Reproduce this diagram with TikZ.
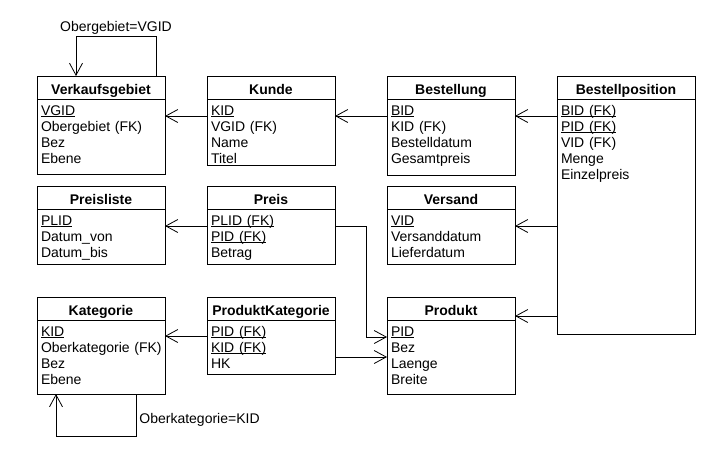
\documentclass[tikz,border=0pt]{standalone}
\usepackage{fontspec}
\setmainfont{Liberation Sans}
\usetikzlibrary{arrows.meta,positioning}
\def\pk#1{\leavevmode\setbox0\hbox{#1}\rlap{\rule[-1.8pt]{\wd0}{0.7pt}}\box0}
\tikzset{
  kopf/.style={draw, fill=white, anchor=north west, minimum width=128pt, minimum height=23pt,
    inner sep=0pt, outer sep=0pt, text height=13pt, text depth=0pt, font=\fontsize{14}{16}\selectfont\bfseries},
  inhalt/.style={draw, anchor=north, text width=120pt, inner xsep=4pt, inner ysep=0pt, outer sep=0pt,
    text height=16pt, align=left, font=\fontsize{14}{16}\selectfont},
  fk/.style={-{Straight Barb[length=12pt,width=13pt]}},
  beschr/.style={font=\fontsize{14}{16}\selectfont}
}
\begin{document}
\begin{tikzpicture}[x=1pt, y=-1pt, line width=0.8pt]
		\useasboundingbox (0,0) rectangle (711,448);
		
		% obere Reihe
		\node[kopf] (vgebietKopf) at (37,76) {Verkaufsgebiet};
		\node[inhalt, text depth=59pt, below=0pt of vgebietKopf] (vgebiet) {\pk{VGID}\\Obergebiet (FK)\\Bez\\Ebene};
		\node[kopf] (kundeKopf) at (207,76) {Kunde};
		\node[inhalt, text depth=50pt, below=0pt of kundeKopf] (kunde) {\pk{KID}\\VGID (FK)\\Name\\Titel};
		\node[kopf] (bestellungKopf) at (387,76) {Bestellung};
		\node[inhalt, text depth=60pt, below=0pt of bestellungKopf] (bestellung) {\pk{BID}\\KID (FK)\\Bestelldatum\\Gesamtpreis};
		\node[kopf, minimum width=138pt] (bestellposKopf) at (557,76) {Bestellposition};
		\node[inhalt, text width=130pt, text depth=219pt, below=0pt of bestellposKopf] (bestellpos) {\pk{BID (FK)}\\\pk{PID (FK)}\\VID (FK)\\Menge\\Einzelpreis};
		
		% mittlere Reihe
		\node[kopf] (preislisteKopf) at (37,186) {Preisliste};
		\node[inhalt, text depth=39pt, below=0pt of preislisteKopf] (preisliste) {\pk{PLID}\\Datum\_von\\Datum\_bis};
		\node[kopf] (preisKopf) at (207,186) {Preis};
		\node[inhalt, text depth=39pt, below=0pt of preisKopf] (preis) {\pk{PLID (FK)}\\\pk{PID (FK)}\\Betrag};
		\node[kopf] (versandKopf) at (387,186) {Versand};
		\node[inhalt, text depth=39pt, below=0pt of versandKopf] (versand) {\pk{VID}\\Versanddatum\\Lieferdatum};
		
		% untere Reihe
		\node[kopf] (kategorieKopf) at (37,297) {Kategorie};
		\node[inhalt, text depth=58pt, below=0pt of kategorieKopf] (kategorie) {\pk{KID}\\\mbox{Oberkategorie (FK)}\\Bez\\Ebene};
		\node[kopf] (prodkatKopf) at (207,297) {ProduktKategorie};
		\node[inhalt, text depth=38pt, below=0pt of prodkatKopf] (prodkat) {\pk{PID (FK)}\\\pk{KID (FK)}\\HK};
		\node[kopf] (produktKopf) at (387,297) {Produkt};
		\node[inhalt, text depth=58pt, below=0pt of produktKopf] (produkt) {\pk{PID}\\Bez\\Laenge\\Breite};
		
		% Beziehungen
		\draw[fk] ([yshift=-17pt]kunde.north west) -- ([yshift=-17pt]vgebiet.north east);
		\draw[fk] ([yshift=-17pt]bestellung.north west) -- ([yshift=-17pt]kunde.north east);
		\draw[fk] ([yshift=-17pt]bestellpos.north west) -- ([yshift=-17pt]bestellung.north east);
		\draw[fk] ([yshift=-127pt]bestellpos.north west) -- ([yshift=-17pt]versand.north east);
		\draw[fk] ([yshift=-217pt]bestellpos.north west) -- ([yshift=-19pt]produktKopf.north east);
		\draw[fk] ([yshift=-17pt]preis.north west) -- ([yshift=-17pt]preisliste.north east);
		\draw[fk] ([yshift=-16pt]prodkat.north west) -- ([yshift=-16pt]kategorie.north east);
		\draw[fk] ([yshift=-17pt]preis.north east) -- ++(31,0) |- ([yshift=-17pt]produkt.north west);
		\draw[fk] ([yshift=-37pt]prodkat.north east) -- ([yshift=-37pt]produkt.north west);
		
		% rekursive Beziehungen
		\draw[fk] ([xshift=-9pt]vgebietKopf.north east) -- ++(0,-40)
		  -| node[pos=0.25, above, inner sep=1pt, beschr] (obergebiet) {Obergebiet=VGID} ([xshift=39pt]vgebietKopf.north west);
		\draw[fk] ([xshift=99pt]kategorie.south west) -- node[pos=0.62, right, inner sep=3pt, beschr] (oberkategorie) {Oberkategorie=KID} ++(0,42)
		  -| ([xshift=19pt]kategorie.south west);
		
	\end{tikzpicture}
\end{document}
